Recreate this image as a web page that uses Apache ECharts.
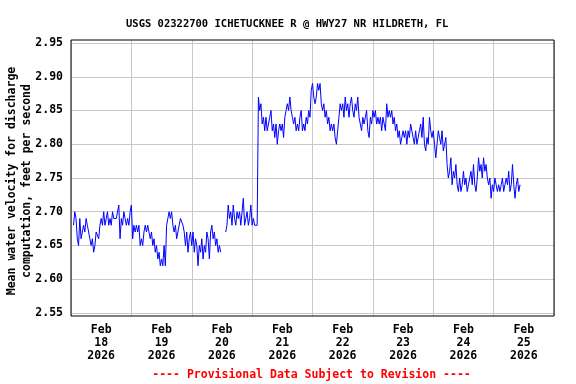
<!DOCTYPE html>
<html><head><meta charset="utf-8">
<script src="https://cdn.jsdelivr.net/npm/echarts@6/dist/echarts.min.js"></script>
<style>html,body{margin:0;padding:0;background:#fff}#c{width:576px;height:384px}</style>
</head><body><div id="c"></div>
<script>
const chartTitle = 'USGS 02322700 ICHETUCKNEE R @ HWY27 NR HILDRETH, FL';
const yAxisName = 'Mean water velocity for discharge\ncomputation, feet per second';
const footnote = '---- Provisional Data Subject to Revision ----';

// time in hours after Feb 17 2026 00:00; readings every 30 minutes
const startHour = 13;
const stepHours = 0.5;
const velocity = [
  2.68,2.70,2.69,2.66,2.65,2.69,2.66,2.67,2.68,2.67,2.69,2.68,
  2.67,2.66,2.65,2.66,2.64,2.65,2.67,2.67,2.66,2.68,2.69,2.68,
  2.70,2.68,2.69,2.70,2.68,2.69,2.68,2.70,2.69,2.69,2.69,2.69,
  2.71,2.66,2.69,2.68,2.70,2.69,2.68,2.69,2.68,2.70,2.71,2.66,
  2.68,2.67,2.68,2.67,2.68,2.65,2.66,2.65,2.67,2.68,2.67,2.68,
  2.67,2.66,2.67,2.65,2.66,2.64,2.65,2.63,2.64,2.62,2.63,2.62,
  2.65,2.62,2.68,2.69,2.70,2.69,2.70,2.68,2.67,2.68,2.66,2.67,
  2.67,2.69,2.69,2.68,2.67,2.65,2.67,2.64,2.66,2.67,2.65,2.67,
  2.64,2.66,2.65,2.62,2.65,2.64,2.66,2.63,2.65,2.64,2.67,2.66,
  2.63,2.67,2.68,2.66,2.67,2.65,2.66,2.64,2.65,2.64,null,null,
  null,2.67,2.68,2.71,2.69,2.70,2.68,2.71,2.69,2.68,2.70,2.69,
  2.70,2.68,2.70,2.72,2.68,2.69,2.70,2.68,2.69,2.71,2.68,2.69,
  2.68,2.68,2.68,
  2.87,2.85,2.86,2.83,2.84,2.82,2.84,2.82,2.83,2.84,2.85,2.82,2.83,
  2.81,2.83,2.80,2.82,2.83,2.82,2.83,2.81,2.84,2.85,2.86,2.85,
  2.87,2.85,2.84,2.83,2.84,2.82,2.83,2.82,2.84,2.85,2.82,2.83,
  2.82,2.84,2.83,2.85,2.84,2.88,2.89,2.87,2.86,2.87,2.89,2.88,
  2.89,2.86,2.85,2.86,2.84,2.85,2.83,2.84,2.82,2.83,2.82,2.83,
  2.81,2.80,2.82,2.84,2.86,2.85,2.86,2.84,2.87,2.85,2.86,2.84,
  2.86,2.87,2.85,2.84,2.86,2.85,2.87,2.84,2.83,2.82,2.84,2.83,
  2.84,2.85,2.82,2.81,2.84,2.83,2.85,2.84,2.85,2.83,2.84,2.83,
  2.84,2.82,2.84,2.83,2.82,2.86,2.84,2.85,2.84,2.85,2.83,2.84,
  2.82,2.83,2.81,2.82,2.80,2.81,2.82,2.81,2.82,2.80,2.82,2.81,
  2.83,2.83,2.81,2.80,2.82,2.80,2.81,2.82,2.83,2.81,2.84,2.80,
  2.79,2.81,2.80,2.84,2.82,2.81,2.82,2.80,2.78,2.80,2.82,2.81,
  2.80,2.82,2.79,2.80,2.81,2.77,2.75,2.76,2.78,2.74,2.76,2.75,
  2.77,2.74,2.73,2.75,2.73,2.74,2.76,2.74,2.75,2.73,2.74,2.75,
  2.76,2.74,2.77,2.74,2.73,2.75,2.78,2.76,2.77,2.75,2.78,2.76,
  2.77,2.75,2.74,2.75,2.72,2.74,2.73,2.75,2.74,2.73,2.74,2.73,
  2.74,2.75,2.73,2.74,2.75,2.74,2.76,2.73,2.74,2.77,2.74,2.72,
  2.74,2.75,2.73,2.74
];

const yTicks = [2.55,2.60,2.65,2.70,2.75,2.80,2.85,2.90,2.95];
const dayTickHours = [24,48,72,96,120,144,168,192];
const dayTickLabels = ['Feb\n18\n2026','Feb\n19\n2026','Feb\n20\n2026','Feb\n21\n2026',
                       'Feb\n22\n2026','Feb\n23\n2026','Feb\n24\n2026','Feb\n25\n2026'];

const seriesData = velocity.map((v, i) => [startHour + i * stepHours, v]);

const FONT = 'DejaVu Sans Mono';
const chart = echarts.init(document.getElementById('c'), null, {renderer: 'canvas'});
chart.setOption({
  animation: false,
  backgroundColor: '#ffffff',
  title: {
    text: chartTitle, left: 121, top: 14,
    textStyle: {fontFamily: FONT, fontWeight: 'bold', fontSize: 10.5, color: '#000'}
  },
  graphic: [{
    type: 'text', x: 311.5, y: 375,
    style: {text: footnote, fill: '#ff0000', font: 'bold 11.5px "DejaVu Sans Mono"',
            textAlign: 'center', textVerticalAlign: 'middle'}
  }, {
    type: 'text', x: 19.5, y: 181, rotation: Math.PI / 2,
    style: {text: yAxisName, fill: '#000', font: 'bold 11.5px "DejaVu Sans Mono"',
            lineHeight: 15, align: 'center', textAlign: 'center', textVerticalAlign: 'middle', verticalAlign: 'middle'}
  }],
  grid: [
    {left: 71, right: 22, top: 40, bottom: 68, show: true, borderColor: '#000', borderWidth: 1,
     backgroundColor: 'transparent', z: 5, containLabel: false, outerBoundsMode: 'none'},
    {left: 71, right: 22, top: 43, bottom: 71, containLabel: false, outerBoundsMode: 'none'}
  ],
  xAxis: [
    {type: 'value', gridIndex: 0, min: 12, max: 204, interval: 24,
     axisLine: {show: false}, axisTick: {show: false},
     splitLine: {show: true, lineStyle: {color: '#c8c8c8', width: 1}},
     axisLabel: {customValues: dayTickHours, margin: 8, lineHeight: 13,
       fontFamily: FONT, fontWeight: 'bold', fontSize: 11.5, color: '#000',
       formatter: v => dayTickLabels[dayTickHours.indexOf(v)] || ''}},
    {type: 'value', gridIndex: 1, min: 12, max: 204, show: false}
  ],
  yAxis: [
    {type: 'value', gridIndex: 0, min: 0, max: 1, show: false},
    {type: 'value', gridIndex: 1, min: yTicks[0], max: yTicks[yTicks.length - 1], interval: 0.05,
     axisLine: {show: false}, axisTick: {show: false},
     splitLine: {show: true, lineStyle: {color: '#c8c8c8', width: 1}},
     axisLabel: {margin: 8, fontFamily: FONT, fontWeight: 'bold', fontSize: 11.5, color: '#000',
       formatter: v => v.toFixed(2)}}
  ],
  series: [{
    type: 'line', xAxisIndex: 1, yAxisIndex: 1, data: seriesData,
    showSymbol: false, connectNulls: false,
    lineStyle: {color: '#0000ff', width: 1}
  }]
});
</script></body></html>
